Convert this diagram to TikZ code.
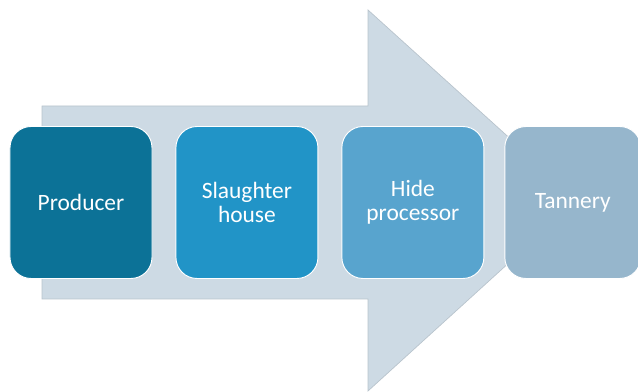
\documentclass[tikz,border=0pt]{standalone}
\usepackage{fontspec}
\setmainfont{Carlito}
\usetikzlibrary{positioning}
\definecolor{arrowfill}{RGB}{205, 218, 228}
\definecolor{arrowline}{RGB}{185, 196, 205}
\definecolor{producercolor}{RGB}{12, 114, 151}
\definecolor{slaughtercolor}{RGB}{33, 148, 199}
\definecolor{hidecolor}{RGB}{88, 164, 206}
\definecolor{tannerycolor}{RGB}{150, 182, 204}
\tikzset{
    stage/.style={
        rectangle,
        rounded corners=18pt,
        minimum width=4.26cm,
        minimum height=4.56cm,
        align=center,
        draw=white,
        line width=0.8pt,
        text=white,
        font=\fontsize{20}{20.5}\selectfont
    },
    bigarrow/.style={
        fill=arrowfill,
        draw=arrowline,
        line width=0.6pt
    }
}
\begin{document}
\begin{tikzpicture}[node distance=0.69cm]
    \useasboundingbox (0,0) rectangle (19.14,11.76);

    % Background arrow
    \draw [bigarrow] (1.26,2.79) -- (1.26,8.58) -- (11.04,8.58) -- (11.04,11.46)
        -- (17.34,5.76) -- (11.04,0.03) -- (11.04,2.79) -- cycle;

    % Stages of the chain
    \node (producer) [stage, fill=producercolor] at (2.43,5.685) {Producer};
    \node (slaughter) [stage, fill=slaughtercolor, right=of producer] {Slaughter\\house};
    \node (hide) [stage, fill=hidecolor, right=of slaughter] {Hide\\processor};
    \node (tannery) [stage, fill=tannerycolor, right=0.6cm of hide, minimum width=4.08cm] {Tannery};

\end{tikzpicture}
\end{document}
